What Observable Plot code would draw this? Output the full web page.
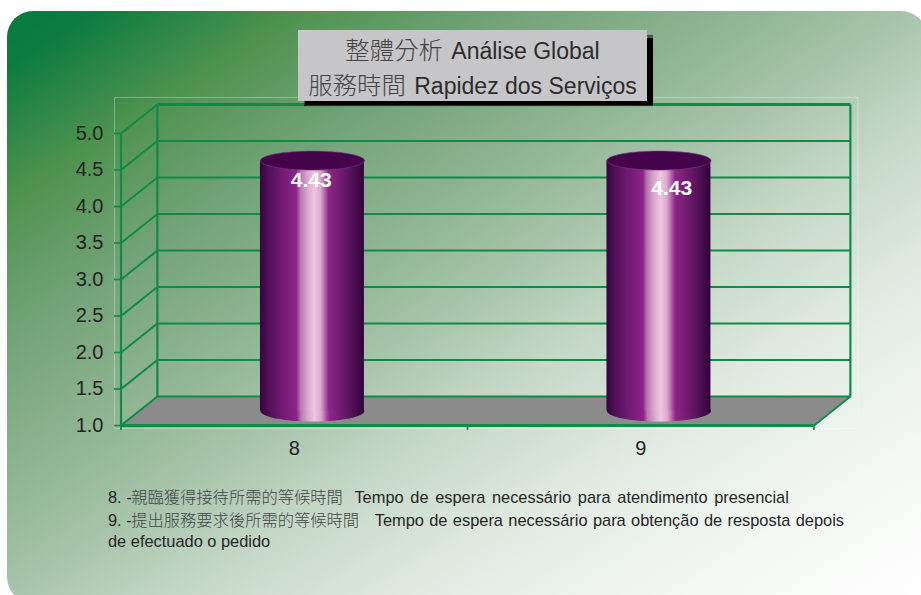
<!DOCTYPE html>
<html>
<head>
<meta charset="utf-8">
<script src="https://cdn.jsdelivr.net/npm/d3@7"></script>
<script src="https://cdn.jsdelivr.net/npm/@observablehq/plot@0.6"></script>
<style>
  html, body { margin: 0; padding: 0; background: #fff; }
  body { width: 921px; height: 595px; overflow: hidden; position: relative;
         font-family: "Liberation Sans", Arial, sans-serif; }
  #card { position: absolute; left: 7px; top: 11px; width: 920px; height: 592px;
          border-radius: 26px;
          background: linear-gradient(to bottom right,
            #067a40 0%, #0e7c40 5%, #4f9350 16%, #74a379 28%, #8fb592 40%, #a9c5ad 50%,
            #c3d6c4 58%, #e2ebe3 72%, #f4f7f4 86%, #ffffff 100%); }
  #chart { position: absolute; left: 0; top: 0; }
  #title { position: absolute; left: 298px; top: 30px; width: 349px; height: 71px;
           background: #c6c6c8; box-shadow: 5.5px 5px 1px #000; color: #2c2c2c;
           text-align: center; font-size: 23px; line-height: 32.5px; padding-top: 3px; box-sizing: border-box; }
  #title .zh { font-family: "Noto Sans CJK TC", sans-serif; font-weight: 300; font-size: 24.4px; color: #444; margin-right: 2px; }
  #notes { position: absolute; left: 108px; top: 486px; width: 745px; color: #262626;
           font-size: 16.4px; line-height: 21.5px; white-space: nowrap; }
  #notes .zh { font-family: "Noto Sans CJK TC", sans-serif; font-weight: 300; font-size: 16.3px; color: #444; margin-left: -0.5px; }
  #notes .pt1 { word-spacing: 2.1px; margin-left: 7px; }
  #notes .pt2 { word-spacing: 0.8px; margin-left: 11px; }
</style>
</head>
<body>
<div id="card"></div>
<div id="chart"></div>
<div id="title">
  <div><span class="zh">整體分析</span> Análise Global</div>
  <div><span class="zh">服務時間</span> Rapidez dos Serviços</div>
</div>
<div id="notes">
  <div>8. -<span class="zh">親臨獲得接待所需的等候時間</span> <span class="pt1">Tempo de espera necessário para atendimento presencial</span></div>
  <div>9. -<span class="zh">提出服務要求後所需的等候時間</span> <span class="pt2">Tempo de espera necessário para obtenção de resposta depois</span></div>
  <div>de efectuado o pedido</div>
</div>
<script>
// Survey items and their mean scores
const items = [8, 9];
const scores = [4.43, 4.43];
const scoreTicks = [1, 1.5, 2, 2.5, 3, 3.5, 4, 4.5, 5];
const bandEdges = [7.5, 8.5, 9.5];

const rows = items.map((item, i) => ({item, score: scores[i]}));

// Oblique projection: how far the back wall sits from the front plane, in data units
const depthX = 0.105;
const depthY = 0.397;
const cylinderRadius = 0.15;

const green = "#0f8a47";

// Flat ellipse used for the cylinder caps
const cap = (rx, ry) => ({
  draw(ctx) {
    const k = 0.5523;
    ctx.moveTo(-rx, 0);
    ctx.bezierCurveTo(-rx, -ry * k, -rx * k, -ry, 0, -ry);
    ctx.bezierCurveTo(rx * k, -ry, rx, -ry * k, rx, 0);
    ctx.bezierCurveTo(rx, ry * k, rx * k, ry, 0, ry);
    ctx.bezierCurveTo(-rx * k, ry, -rx, ry * k, -rx, 0);
    ctx.closePath();
  }
});

// Shading across the round side of each column
const defs = () => {
  const d = d3.create("svg:defs");
  const g = d.append("linearGradient").attr("id", "cylinder");
  [[0, "#35043f"], [0.08, "#520e58"], [0.2, "#6e1a70"], [0.35, "#8c2489"], [0.39, "#b878b0"],
   [0.46, "#dba9cf"], [0.52, "#eec6e0"], [0.58, "#dcaad0"], [0.62, "#b56cab"], [0.66, "#8f2589"],
   [0.85, "#5c1560"], [1, "#30033a"]].forEach(([o, c]) =>
    g.append("stop").attr("offset", o).attr("stop-color", c));
  return d.node();
};

const chart = Plot.plot({
  width: 921,
  height: 595,
  marginLeft: 120.5,
  marginRight: 107.5,
  marginTop: 133,
  marginBottom: 170,
  style: {background: "transparent", overflow: "visible", fontFamily: "'Liberation Sans', Arial, sans-serif"},
  x: {type: "linear", domain: [7.5, 9.5]},
  y: {type: "linear", domain: [1, 5]},
  marks: [
    defs,
    // Faint outline of the plot area
    Plot.frame({stroke: "#fff", strokeOpacity: 0.3, insetLeft: -6.5, insetRight: -44, insetTop: -36, insetBottom: -3}),
    // Floor
    Plot.area([{a: 7.5, b: 9.5, v: 1}, {a: 7.5 + depthX, b: 9.5 + depthX, v: 1 + depthY}], {
      x1: "a", x2: "b", y1: "v", y2: "v", fill: "#8b8b8b"
    }),
    // Back wall grid
    Plot.link(scoreTicks, {
      x1: 7.5 + depthX, x2: 9.5 + depthX,
      y1: (d) => d + depthY, y2: (d) => d + depthY,
      stroke: green, strokeWidth: (d) => (d === 5 ? 2.8 : 2)
    }),
    // Side wall grid
    Plot.link(scoreTicks, {
      x1: 7.5, x2: 7.5 + depthX,
      y1: (d) => d, y2: (d) => d + depthY,
      stroke: green, strokeWidth: 2
    }),
    // Wall corners
    Plot.link([7.5, 7.5 + depthX, 9.5 + depthX], {
      x1: (d) => d, x2: (d) => d,
      y1: (d) => (d === 7.5 ? 1 : 1 + depthY), y2: (d) => (d === 7.5 ? 5 : 5 + depthY),
      stroke: green, strokeWidth: 2.2
    }),
    // Front right floor edge
    Plot.link([9.5], {
      x1: (d) => d, x2: (d) => d + depthX,
      y1: 1, y2: 1 + depthY,
      stroke: green, strokeWidth: 2
    }),
    // Axes
    Plot.ruleY([1], {stroke: green, strokeWidth: 3}),
    Plot.axisY(scoreTicks, {
      anchor: "left", label: null, tickSize: 6.5, tickPadding: 11, stroke: green, strokeWidth: 1.6,
      fill: "#222", fontSize: 20, tickFormat: d3.format(".1f")
    }),
    Plot.axisX(bandEdges, {
      anchor: "bottom", label: null, tickSize: 5, tickPadding: 0, stroke: green, strokeWidth: 1.8,
      tickFormat: () => ""
    }),
    Plot.axisX(items, {
      anchor: "bottom", label: null, tickSize: 0, tickPadding: 15,
      fill: "#222", fontSize: 20, tickFormat: String
    }),
    // Cylinders
    Plot.dot(rows, {
      x: (d) => d.item + depthX / 2, y: () => 1 + depthY / 2,
      symbol: cap(52, 10.5), fill: "url(#cylinder)"
    }),
    Plot.rect(rows, {
      x1: (d) => d.item + depthX / 2 - cylinderRadius,
      x2: (d) => d.item + depthX / 2 + cylinderRadius,
      y1: () => 1 + depthY / 2,
      y2: (d) => d.score + depthY / 2,
      fill: "url(#cylinder)"
    }),
    Plot.dot(rows, {
      x: (d) => d.item + depthX / 2, y: (d) => d.score + depthY / 2,
      symbol: cap(52, 9.5), fill: "#45034b", stroke: "#6f3c76", strokeWidth: 0.6
    }),
    // Value labels
    Plot.text(rows.slice(0, 1), {
      x: "item", y: "score", text: (d) => d.score.toFixed(2),
      fill: "#fff", fontSize: 21, fontWeight: "bold", dx: 17, dy: 5
    }),
    Plot.text(rows.slice(1), {
      x: "item", y: "score", text: (d) => d.score.toFixed(2),
      fill: "#fff", fontSize: 21, fontWeight: "bold", dx: 31, dy: 13
    })
  ]
});
document.getElementById("chart").appendChild(chart);
</script>
</body>
</html>
